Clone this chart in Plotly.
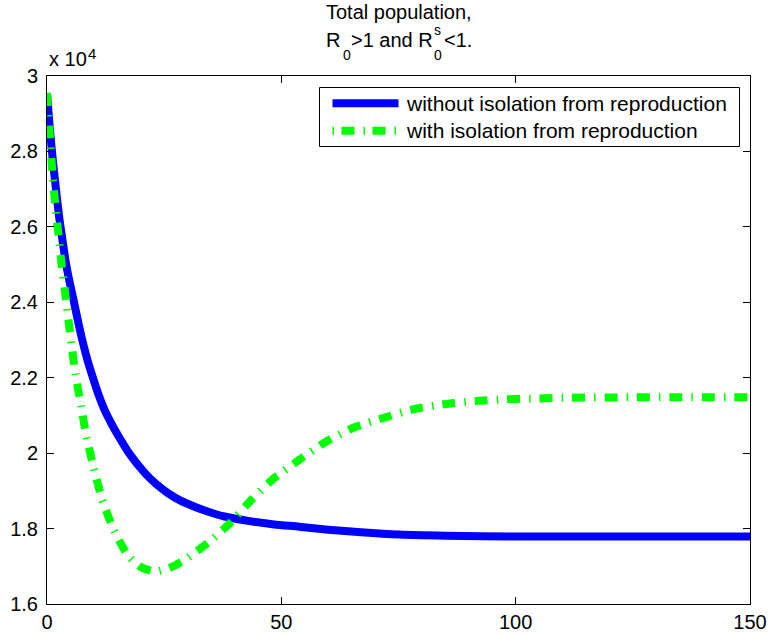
import plotly.graph_objects as go

# Simulated total population over time (days), two scenarios
t_without = [0, 0.6, 1.3, 2.0, 2.6, 3.3, 3.93, 4.8, 5.77, 6.7, 7.7, 8.7, 9.8, 11.0,
             12.3, 13.8, 15.3, 17.5, 20.9, 23.3, 25.8, 28.5, 31.5, 34.6, 37.9, 43.6,
             48.5, 53.8, 60.0, 67.0, 75.2, 85.0, 100.0, 120.0, 150.0]
pop_without = [29550, 28600, 27700, 26900, 26250, 25650, 25120, 24550, 24000, 23450,
               22910, 22440, 22000, 21550, 21140, 20770, 20440, 20000, 19470, 19180,
               18940, 18740, 18580, 18440, 18320, 18190, 18110, 18050, 17970, 17900,
               17840, 17810, 17790, 17790, 17790]

t_with = [0, 0.5, 1.0, 1.6, 2.35, 3.07, 3.93, 4.63, 5.2, 6.1, 7.3, 8.47, 10.0, 11.7,
          14.1, 17.2, 20.0, 23.0, 26.0, 29.0, 34.3, 39.0, 43.6, 48.6, 53.9, 59.6,
          65.5, 71.7, 78.1, 84.9, 91.4, 98.1, 104.8, 111.6, 125.0, 150.0]
pop_with = [29550, 28600, 27700, 26800, 25900, 25050, 24200, 23480, 22900, 22070,
            21230, 20410, 19600, 18800, 18010, 17300, 16980, 16860, 16950, 17140,
            17620, 18140, 18760, 19350, 19830, 20310, 20680, 20930, 21160, 21300,
            21380, 21430, 21450, 21470, 21480, 21480]

x_ticks = [0, 50, 100, 150]
y_ticks = [1.6, 1.8, 2.0, 2.2, 2.4, 2.6, 2.8, 3.0]
y_tick_text = ["1.6", "1.8", "2", "2.2", "2.4", "2.6", "2.8", "3"]
scale = 1e4

labels = ["without isolation from reproduction", "with isolation from reproduction"]

W, H = 771, 638
L, R, T, B = 47, 750, 76, 604


def px(xp):
    return (xp - L) / (R - L)


def py(yp):
    return (B - yp) / (B - T)


FONT = "Liberation Sans, Arial, Helvetica, sans-serif"
DASHDOT = "13px,9px,1.5px,9px"

styles = [
    dict(color="#0000ff", width=8),
    dict(color="#00ff00", width=8, dash=DASHDOT),
]

fig = go.Figure()
for t, pop, name, st in [(t_without, pop_without, labels[0], styles[0]),
                         (t_with, pop_with, labels[1], styles[1])]:
    fig.add_trace(go.Scatter(
        x=t, y=[v / scale for v in pop], mode="lines", name=name,
        line=dict(shape="spline", smoothing=0.6, **st),
    ))

axis_common = dict(
    showline=True, linecolor="black", linewidth=1, mirror="ticks",
    ticks="inside", ticklen=7, tickcolor="black", tickwidth=1,
    showgrid=False, zeroline=False, automargin=False,
    tickfont=dict(family=FONT, size=20, color="black"),
)
fig.update_xaxes(range=[0, 150], tickvals=x_ticks, **axis_common)
fig.update_yaxes(range=[1.6, 3.0], tickvals=y_ticks, ticktext=y_tick_text,
                 ticklabelstandoff=4, **axis_common)

ann = []
shapes = []


def add_text(text, xp, yp, size, anchor="left"):
    ann.append(dict(text=text, x=px(xp), y=py(yp), xref="paper", yref="paper",
                    xanchor=anchor, yanchor="middle", showarrow=False,
                    font=dict(family=FONT, size=size, color="black")))


# Title, two lines
add_text("Total population,", 399.5, 12.5, 20, anchor="center")
add_text("R", 324, 39.8, 20)
add_text("0", 340.5, 55, 14)
add_text("&gt;1 and R", 348.5, 39.8, 20)
add_text("s", 432, 30, 14)
add_text("0", 432, 55, 14)
add_text("&lt;1.", 442, 39.8, 20)

# Exponent label of the y axis
add_text("x 10", 47, 59, 20)
add_text("4", 86, 53, 15)

# Boxed legend in the upper right corner
shapes.append(dict(type="rect", xref="paper", yref="paper", layer="above",
                   x0=px(319.5), x1=px(739.5), y0=py(87.5), y1=py(146.5),
                   fillcolor="white", line=dict(color="black", width=1)))
legend_rows = [103.3, 130.7]
sample_styles = [styles[0], dict(color="#00ff00", width=8, dash="1.5px,7.5px,13px,9px")]
for row, name, st in zip(legend_rows, labels, sample_styles):
    shapes.append(dict(type="line", xref="paper", yref="paper", layer="above",
                       x0=px(332.5), x1=px(398.5), y0=py(row), y1=py(row),
                       line=st))
    add_text(name, 404, row, 21)

fig.update_layout(
    template="none",
    width=W, height=H,
    margin=dict(l=L, r=W - R, t=T, b=H - B, pad=0),
    paper_bgcolor="white", plot_bgcolor="white",
    font=dict(family=FONT, size=20, color="black"),
    annotations=ann,
    shapes=shapes,
    showlegend=False,
)

fig.write_html("out.html")
